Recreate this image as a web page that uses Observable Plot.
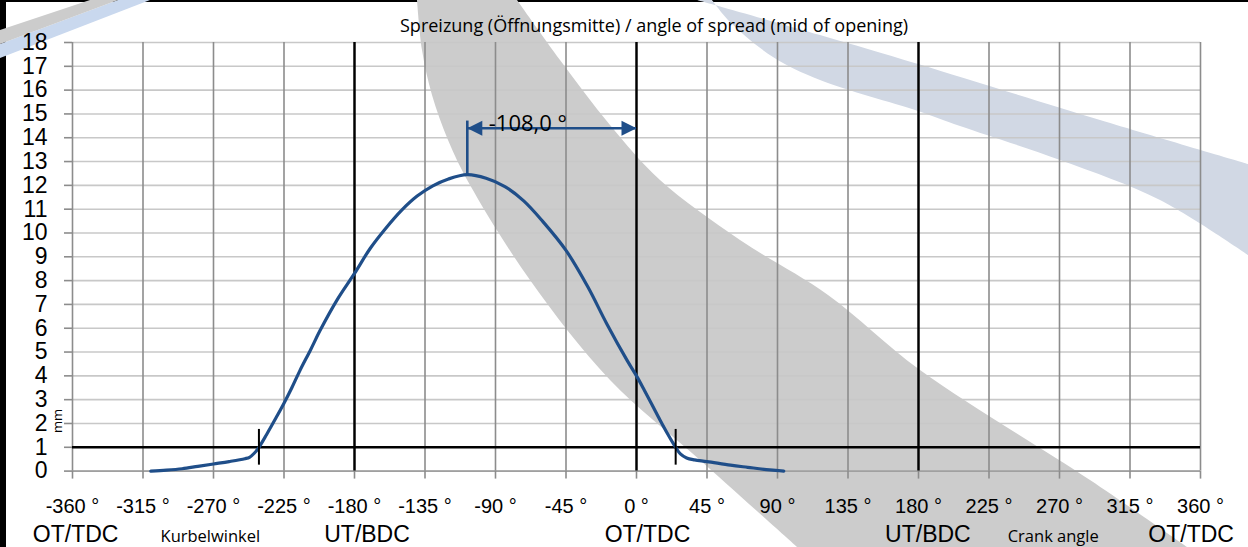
<!DOCTYPE html>
<html>
<head>
<meta charset="utf-8">
<script src="https://cdn.jsdelivr.net/npm/d3@7"></script>
<script src="https://cdn.jsdelivr.net/npm/@observablehq/plot@0.6"></script>
<style>
  html, body { margin: 0; padding: 0; background: #fff; }
  #wrap { position: relative; width: 1248px; height: 547px; overflow: hidden; background: #fff; }
  #deco { position: absolute; left: 0; top: 0; }
  #title { position: absolute; left: 400px; top: 12.8px; font-family: "Open Sans", sans-serif; font-size: 18px; color: #000; white-space: nowrap; }
  #chart { position: absolute; left: 0; top: 36px; }
</style>
</head>
<body>
<div id="wrap">
  <svg id="deco" width="1248" height="547"></svg>
  <div id="chart"></div>
  <div id="title">Spreizung (Öffnungsmitte) / angle of spread (mid of opening)</div>
</div>
<script>
// ---------- data ----------
const crankAngle = [-310, -300, -290, -280, -270, -260, -250, -247, -244, -241, -236, -230, -225, -220, -215, -208, -202, -191, -180, -170, -160, -150, -140, -130, -120, -108, -96, -84, -72, -60, -45, -31, -19, -6, 0, 5, 10, 15, 20, 25, 28, 32, 37, 45, 60, 71, 85, 94];
const lift       = [0, 0.04, 0.1, 0.2, 0.3, 0.4, 0.52, 0.58, 0.75, 1.0, 1.55, 2.25, 2.85, 3.5, 4.2, 5.1, 5.9, 7.2, 8.3, 9.35, 10.2, 10.95, 11.55, 11.98, 12.27, 12.45, 12.3, 11.95, 11.35, 10.5, 9.27, 7.73, 6.19, 4.65, 4.0, 3.4, 2.78, 2.15, 1.55, 1.0, 0.72, 0.55, 0.47, 0.4, 0.25, 0.16, 0.05, 0];
const xTicks = [-360, -315, -270, -225, -180, -135, -90, -45, 0, 45, 90, 135, 180, 225, 270, 315, 360];
const yTicks = [0, 1, 2, 3, 4, 5, 6, 7, 8, 9, 10, 11, 12, 13, 14, 15, 16, 17, 18];
const deadCenterAngles = [-180, 0, 180];
const positionLabels = ["OT/TDC", "Kurbelwinkel", "UT/BDC", "OT/TDC", "UT/BDC", "Crank angle", "OT/TDC"];
const positionLabelAngles = [-358, -272, -172, 7, 186, 266, 354];
const positionLabelSmall = [false, true, false, false, false, true, false];
const liftThreshold = 1;          // mm
const spreadBarTop = 14.7;        // mm
const spreadArrowLevel = 14.4;    // mm
const unitLabel = "mm";

// ---------- derived ----------
const profile = crankAngle.map((x, i) => ({x, y: lift[i]}));
const peak = profile.reduce((a, b) => (b.y > a.y ? b : a));
const crossings = [];
for (let i = 0; i < profile.length - 1; i++) {
  const a = profile[i], b = profile[i + 1];
  const rising = a.y < liftThreshold && b.y >= liftThreshold;
  const falling = a.y >= liftThreshold && b.y < liftThreshold;
  if (rising || falling) {
    const t = (liftThreshold - a.y) / (b.y - a.y);
    crossings.push(a.x + t * (b.x - a.x));
  }
}
const spreadText = d3.format(".1f")(peak.x).replace("\u2212", "-").replace(".", ",") + " °";
const posLabels = positionLabels.map((t, i) => ({t, x: positionLabelAngles[i], small: positionLabelSmall[i]}));

// custom arrow-head symbols with the tip at the origin
const headRight = {draw(ctx) { ctx.moveTo(0, 0); ctx.lineTo(-15, -7.5); ctx.lineTo(-15, 7.5); ctx.closePath(); }};
const headLeft  = {draw(ctx) { ctx.moveTo(0, 0); ctx.lineTo(15, -7.5); ctx.lineTo(15, 7.5); ctx.closePath(); }};

const blue = "#1f4e89";
const vGrid = "#8c8c8c";
const hGrid = "#c8c8c8";

const chart = Plot.plot({
  width: 1248,
  height: 511,
  marginLeft: 72,
  marginRight: 48,
  marginTop: 6,
  marginBottom: 76.4,
  style: {background: "transparent", overflow: "visible", fontFamily: "'Liberation Sans', Arial, sans-serif", color: "#000"},
  x: {domain: [-360, 360]},
  y: {domain: [0, 18]},
  marks: [
    Plot.gridY(yTicks, {stroke: hGrid, strokeOpacity: 1, strokeWidth: 1.6}),
    Plot.ruleY([0], {stroke: "#a0a0a0", strokeWidth: 1.6}),
    Plot.gridX(xTicks, {stroke: vGrid, strokeOpacity: 1, strokeWidth: 1.6}),
    Plot.axisX(xTicks, {tickSize: 8, tickPadding: 19.5, stroke: vGrid, strokeWidth: 1.6, fontSize: 20, letterSpacing: "0.5px", tickFormat: d => `${d} °`, label: null}),
    Plot.axisY(yTicks, {tickSize: 8, tickPadding: 17, stroke: vGrid, strokeWidth: 1.6, fontSize: 23, label: null}),
    Plot.ruleX(deadCenterAngles, {y1: 0, y2: 18, stroke: "#000", strokeWidth: 2.4}),
    Plot.ruleY([liftThreshold], {x1: -360, x2: 360, stroke: "#000", strokeWidth: 2.6}),
    Plot.line(profile, {x: "x", y: "y", stroke: blue, strokeWidth: 3.2, curve: "catmull-rom"}),
    Plot.ruleX(crossings, {y1: liftThreshold - 0.75, y2: liftThreshold + 0.75, stroke: "#000", strokeWidth: 2}),
    // spread annotation
    Plot.ruleX([peak], {x: "x", y1: "y", y2: () => spreadBarTop, stroke: blue, strokeWidth: 2.6}),
    Plot.ruleY([spreadArrowLevel], {x1: peak.x, x2: 0, stroke: blue, strokeWidth: 2.6}),
    Plot.dot([peak.x], {x: d => d, y: () => spreadArrowLevel, symbol: headLeft, fill: blue, stroke: null, r: 8}),
    Plot.dot([0], {x: d => d, y: () => spreadArrowLevel, symbol: headRight, fill: blue, stroke: null, r: 8}),
    Plot.text([spreadText], {x: () => (peak.x + 0) / 2, y: () => spreadArrowLevel, text: d => d, dx: -24, dy: 3, lineAnchor: "bottom", fontSize: 22, fontFamily: "'Open Sans', sans-serif", fill: "#000"}),
    // unit label
    Plot.text([unitLabel], {frameAnchor: "bottom-left", text: d => d, rotate: -90, dx: -11, dy: -38, fontSize: 13, fontFamily: "'Open Sans', sans-serif", fill: "#000"}),
    // position labels under the axis
    Plot.text(posLabels.filter(d => !d.small), {x: "x", text: "t", frameAnchor: "bottom", lineAnchor: "bottom", dy: 70.5, fontSize: 23, fill: "#000"}),
    Plot.text(posLabels.filter(d => d.small), {x: "x", text: "t", frameAnchor: "bottom", lineAnchor: "bottom", dy: 70.5, fontSize: 16.5, fontFamily: "'Open Sans', sans-serif", fill: "#000"})
  ]
});
document.getElementById("chart").appendChild(chart);

// ---------- decorative background (document watermark) ----------
const deco = d3.select("#deco");
const smooth = d3.line().curve(d3.curveCatmullRom);
deco.append("rect").attr("x", 0).attr("y", 0).attr("width", 1248).attr("height", 2).attr("fill", "#000");
deco.append("rect").attr("x", 0).attr("y", 0).attr("width", 6).attr("height", 547).attr("fill", "#000");
const grayLeft = [[417,0],[422,50],[432,95],[448,140],[470,185],[530,280],[610,380],[700,460],[797,547]];
const grayRight = [[1187,547],[1090,480],[920,370],[828,295],[740,240],[660,180],[610,125],[560,60],[517,0]];
deco.append("path").attr("d", smooth(grayLeft) + "L" + smooth(grayRight).slice(1) + "Z").attr("fill", "#cccccc");
const blueTop = [[697,0],[820,35],[918,64],[1100,120],[1248,164]];
const blueBottom = [[1248,255],[1160,200],[1060,160],[960,126],[918,111],[820,80],[773,57],[730,22],[712,0]];
deco.append("path").attr("d", smooth(blueTop) + "L" + smooth(blueBottom).slice(1) + "Z").attr("fill", "#d1d8e4");
deco.append("path").attr("d", "M0,44L118,0L150,0L0,58Z").attr("fill", "#c9d8ee");
deco.append("path").attr("d", "M0,30L90,0L118,0L0,44Z").attr("fill", "#cccccc");
</script>
</body>
</html>
